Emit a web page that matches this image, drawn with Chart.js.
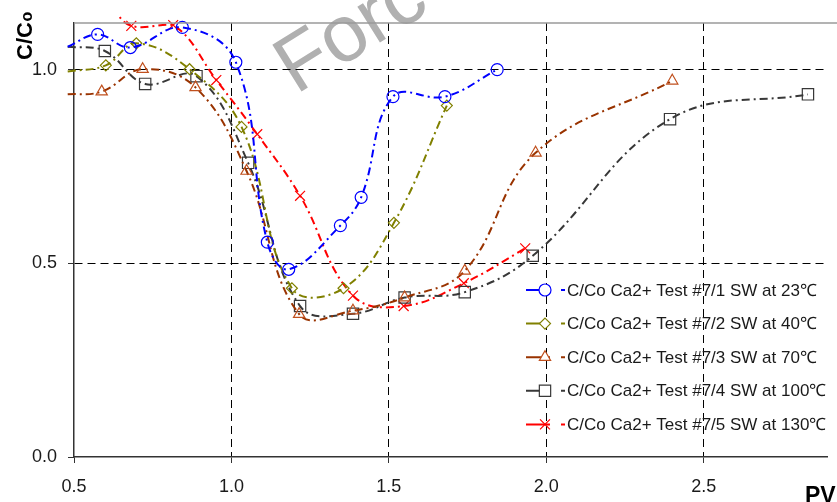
<!DOCTYPE html>
<html>
<head>
<meta charset="utf-8">
<script src="https://cdn.jsdelivr.net/npm/chart.js"></script>
<style>
  html, body { margin: 0; padding: 0; background: #fff; }
  canvas { display: block; }
</style>
</head>
<body>
<canvas id="chart" width="837" height="502"></canvas>
<script>
// pore volumes (x) and C/Co (y) per test
const pv23 = [0.48, 0.575, 0.679, 0.844, 1.014, 1.114, 1.182, 1.346, 1.412, 1.513, 1.678, 1.844]
const cc23 = [1.06, 1.092, 1.058, 1.110, 1.020, 0.555, 0.485, 0.598, 0.671, 0.931, 0.931, 1.001]

const pv40 = [0.48, 0.601, 0.698, 0.867, 1.032, 1.192, 1.356, 1.516, 1.684]
const cc40 = [0.996, 1.012, 1.069, 1.002, 0.853, 0.436, 0.436, 0.605, 0.908]

const pv70 = [0.48, 0.588, 0.718, 0.886, 1.048, 1.215, 1.386, 1.550, 1.741, 1.966, 2.400]
const cc70 = [0.937, 0.944, 1.002, 0.955, 0.739, 0.369, 0.378, 0.412, 0.481, 0.786, 0.972]

const pv100 = [0.48, 0.598, 0.726, 0.889, 1.053, 1.218, 1.386, 1.550, 1.741, 1.957, 2.393, 2.831]
const cc100 = [1.060, 1.049, 0.964, 0.984, 0.760, 0.390, 0.370, 0.412, 0.426, 0.520, 0.873, 0.937]

const pv130 = [0.62, 0.682, 0.815, 0.952, 1.082, 1.218, 1.386, 1.547, 1.738, 1.933]
const cc130 = [1.16, 1.114, 1.116, 0.974, 0.834, 0.675, 0.417, 0.390, 0.449, 0.539]

const seriesLabels = [
  "C/Co Ca2+ Test #7/1 SW at 23\u2103",
  "C/Co Ca2+ Test #7/2 SW at 40\u2103",
  "C/Co Ca2+ Test #7/3 SW at 70\u2103",
  "C/Co Ca2+ Test #7/4 SW at 100\u2103",
  "C/Co Ca2+ Test #7/5 SW at 130\u2103",
]
const xTicks = [0.5, 1.0, 1.5, 2.0, 2.5]
const yTicks = [0.0, 0.5, 1.0]

const FONT = "'Liberation Sans', Arial, sans-serif"

const styles = [
  { line: "#0000ff", mark: "#0000ff", shape: "circle", r: 6 },
  { line: "#808000", mark: "#808000", shape: "rectRot", r: 5.5 },
  { line: "#993300", mark: "#c0501e", shape: "triangle", r: 6.5 },
  { line: "#383838", mark: "#383838", shape: "rect", r: 8 },
  { line: "#ff0000", mark: "#ff0000", shape: "crossRot", r: 7 },
]

const xs = [pv23, pv40, pv70, pv100, pv130]
const ys = [cc23, cc40, cc70, cc100, cc130]

// first point of each series is just where the curve enters the frame, no marker
const datasets = xs.map((xArr, i) => ({
  label: seriesLabels[i],
  data: xArr.map((x, j) => ({ x: x, y: ys[i][j] })),
  borderColor: styles[i].line,
  borderWidth: 2,
  borderDash: [8, 4, 2, 4],
  tension: 0.4,
  fill: false,
  pointStyle: styles[i].shape,
  pointRadius: xArr.map((x, j) => (j === 0 ? 0 : styles[i].r)),
  pointBorderColor: styles[i].mark,
  pointBackgroundColor: "rgba(0,0,0,0)",
  pointBorderWidth: 1.2,
  clip: { left: 7, top: 8, right: 0, bottom: 0 },
}))

function drawMarker(ctx, shape, x, y, r, color) {
  ctx.save()
  ctx.strokeStyle = color
  ctx.fillStyle = "#fff"
  ctx.lineWidth = 1.2
  ctx.setLineDash([])
  ctx.beginPath()
  if (shape === "circle") {
    ctx.arc(x, y, r, 0, Math.PI * 2)
  } else if (shape === "rectRot") {
    ctx.moveTo(x, y - r); ctx.lineTo(x + r, y); ctx.lineTo(x, y + r); ctx.lineTo(x - r, y); ctx.closePath()
  } else if (shape === "triangle") {
    const s = r * Math.sqrt(3) / 2
    ctx.moveTo(x, y - r); ctx.lineTo(x + s, y + r / 2); ctx.lineTo(x - s, y + r / 2); ctx.closePath()
  } else if (shape === "rect") {
    const h = r * Math.SQRT1_2
    ctx.rect(x - h, y - h, 2 * h, 2 * h)
  } else if (shape === "crossRot") {
    const h = r * Math.SQRT1_2
    ctx.moveTo(x - h, y - h); ctx.lineTo(x + h, y + h)
    ctx.moveTo(x + h, y - h); ctx.lineTo(x - h, y + h)
  }
  if (shape !== "crossRot") ctx.fill()
  ctx.stroke()
  ctx.restore()
}

const decor = {
  id: "decor",
  beforeDraw(chart) {
    const ctx = chart.ctx
    // faint watermark behind everything
    ctx.save()
    ctx.translate(296, 95)
    ctx.rotate(-32 * Math.PI / 180)
    ctx.font = "80px " + FONT
    ctx.fillStyle = "#b0b0b0"
    ctx.textBaseline = "alphabetic"
    ctx.fillText("Forc", 0, 0)
    ctx.restore()
  },
  afterDraw(chart) {
    const ctx = chart.ctx
    const area = chart.chartArea

    // top frame line
    ctx.save()
    ctx.strokeStyle = "#9a9a9a"
    ctx.lineWidth = 1.5
    ctx.beginPath()
    ctx.moveTo(area.left, area.top)
    ctx.lineTo(chart.width, area.top)
    ctx.stroke()
    ctx.restore()

    // legend
    ctx.save()
    ctx.font = "17px " + FONT
    ctx.textBaseline = "middle"
    ctx.fillStyle = "#1a1a1a"
    seriesLabels.forEach((label, i) => {
      const y = 290 + i * 33.6
      ctx.strokeStyle = styles[i].line
      ctx.lineWidth = 2
      ctx.setLineDash([])
      ctx.beginPath()
      ctx.moveTo(526, y)
      ctx.lineTo(550, y)
      ctx.moveTo(561, y)
      ctx.lineTo(565, y)
      ctx.stroke()
      drawMarker(ctx, styles[i].shape, 545, y, styles[i].r, styles[i].mark)
      ctx.fillText(label, 567, y + 1)
    })
    ctx.restore()

    // y axis title, C/Co with subscript o
    ctx.save()
    ctx.translate(32, 60)
    ctx.rotate(-Math.PI / 2)
    ctx.fillStyle = "#000"
    ctx.textBaseline = "alphabetic"
    ctx.font = "bold 22px " + FONT
    ctx.fillText("C/C", 0, 0)
    const w = ctx.measureText("C/C").width
    ctx.font = "bold 16px " + FONT
    ctx.fillText("o", w + 0.5, 0)
    ctx.restore()

    // x axis title
    ctx.save()
    ctx.fillStyle = "#000"
    ctx.font = "bold 23px " + FONT
    ctx.textBaseline = "alphabetic"
    ctx.fillText("PV", 805, 503)
    ctx.restore()
  },
}

new Chart(document.getElementById("chart"), {
  type: "line",
  data: { datasets: datasets },
  plugins: [decor],
  options: {
    responsive: false,
    animation: false,
    events: [],
    layout: { padding: { top: 23, right: 0, left: 0, bottom: 0 } },
    plugins: { legend: { display: false }, tooltip: { enabled: false } },
    scales: {
      x: {
        type: "linear",
        min: 0.5,
        max: 2.894,
        afterBuildTicks: (scale) => { scale.ticks = xTicks.map((v) => ({ value: v })) },
        afterFit: (scale) => { scale.height = 45 },
        ticks: {
          font: { family: FONT, size: 18 },
          color: "#1a1a1a",
          padding: 13,
          maxRotation: 0,
          callback: (v) => Number(v).toFixed(1),
        },
        grid: {
          color: (c) => (c.tick && c.tick.value === 0.5 ? "rgba(0,0,0,0)" : "#000"),
          lineWidth: 1,
          tickLength: 6,
          tickColor: "#333",
          tickBorderDash: [],
        },
        border: { display: true, color: "#333", width: 1.5, dash: [8, 5] },
      },
      y: {
        type: "linear",
        min: 0,
        max: 1.1214,
        afterBuildTicks: (scale) => { scale.ticks = yTicks.map((v) => ({ value: v })) },
        afterFit: (scale) => { scale.width = 74 },
        ticks: {
          font: { family: FONT, size: 18 },
          color: "#1a1a1a",
          padding: 11,
          callback: (v) => Number(v).toFixed(1),
        },
        grid: {
          color: (c) => (c.tick && c.tick.value === 0 ? "rgba(0,0,0,0)" : "#000"),
          lineWidth: 1,
          tickLength: 6,
          tickColor: "#333",
          tickBorderDash: [],
        },
        border: { display: true, color: "#333", width: 1.5, dash: [8, 5] },
      },
    },
  },
})
</script>
</body>
</html>
